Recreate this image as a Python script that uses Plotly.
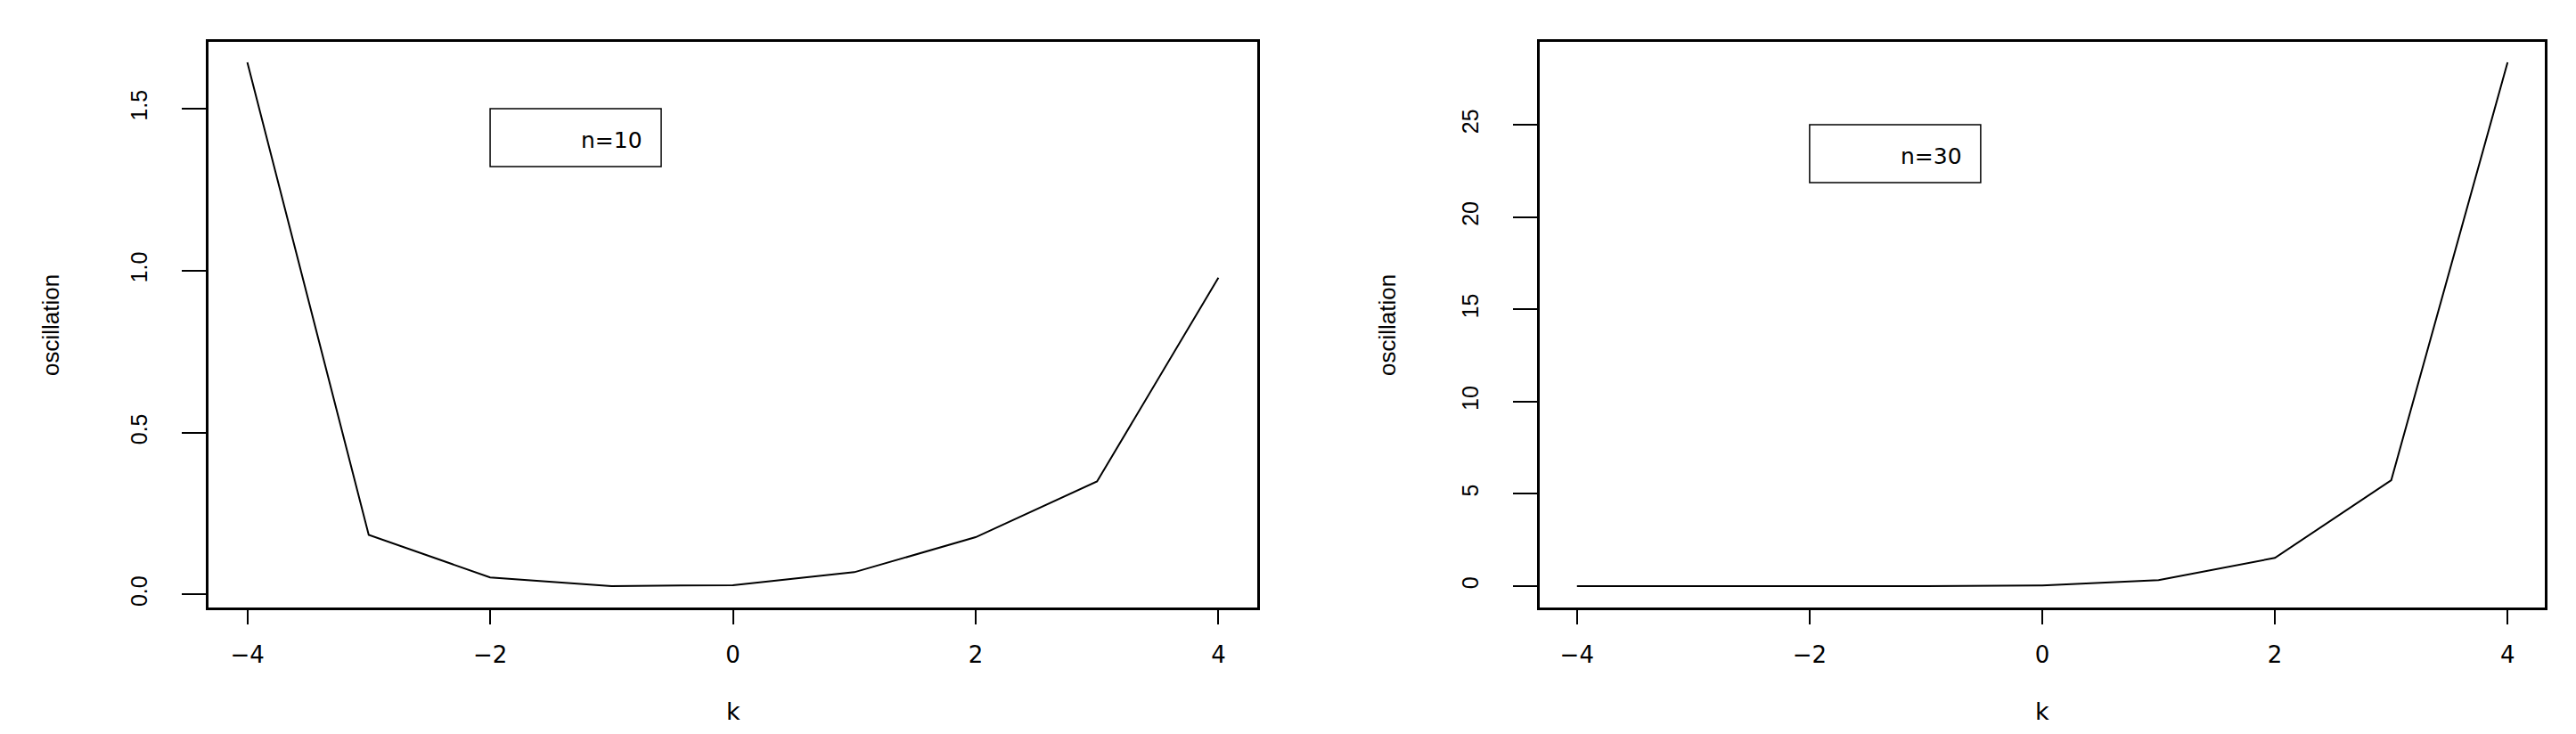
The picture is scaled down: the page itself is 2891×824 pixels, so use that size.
import plotly.graph_objects as go

# ---- data ----
k = [-4, -3, -2, -1, 0, 1, 2, 3, 4]
osc_n10 = [1.643, 0.184, 0.053, 0.026, 0.029, 0.069, 0.177, 0.349, 0.978]
osc_n30 = [0.0, 0.0, 0.001, 0.005, 0.04, 0.32, 1.53, 5.74, 28.38]
x_ticks = [-4, -2, 0, 2, 4]
y_ticks_n10 = [0.0, 0.5, 1.0, 1.5]
y_tick_text_n10 = ["0.0", "0.5", "1.0", "1.5"]
y_ticks_n30 = [0, 5, 10, 15, 20, 25]
legend_labels = ["n=10", "n=30"]
legend_anchor = [(-2, 1.5), (-2, 25)]

W, H = 2891, 824
FONT_V = "Liberation Sans, Arial, sans-serif"   # rotated text
FONT_H = "DejaVu Sans, Arial, sans-serif"       # horizontal (wider) text


def rrange(v):
    lo, hi = min(v), max(v)
    pad = 0.04 * (hi - lo)
    return [lo - pad, hi + pad]


fig = go.Figure()
fig.add_trace(go.Scatter(x=k, y=osc_n10, mode="lines", line=dict(color="black", width=2),
                         xaxis="x", yaxis="y", showlegend=False))
fig.add_trace(go.Scatter(x=k, y=osc_n30, mode="lines", line=dict(color="black", width=2),
                         xaxis="x2", yaxis="y2", showlegend=False))

ydom = [1 - 673.5 / H, 1 - 38.5 / H]
xdom1 = [226 / W, 1403 / W]
xdom2 = [1720 / W, 2848 / W]

axis_common = dict(showgrid=False, zeroline=False, showline=True, mirror=True,
                   linecolor="black", linewidth=2.5, ticks="outside",
                   tickcolor="black", tickwidth=2)
xfont = dict(family=FONT_H, size=26, color="black")
yfont = dict(family=FONT_V, size=25, color="black")

fig.update_layout(
    width=W, height=H,
    margin=dict(l=0, r=0, t=0, b=0),
    plot_bgcolor="white", paper_bgcolor="white",
    xaxis=dict(domain=xdom1, range=rrange(k), tickvals=x_ticks, ticklen=17,
               ticklabelstandoff=12, anchor="y", tickfont=xfont, **axis_common),
    yaxis=dict(domain=ydom, range=rrange(osc_n10), tickvals=y_ticks_n10,
               ticktext=y_tick_text_n10, tickangle=-90, ticklen=27,
               ticklabelstandoff=29, anchor="x", tickfont=yfont, **axis_common),
    xaxis2=dict(domain=xdom2, range=rrange(k), tickvals=x_ticks, ticklen=17,
                ticklabelstandoff=12, anchor="y2", tickfont=xfont, **axis_common),
    yaxis2=dict(domain=ydom, range=rrange(osc_n30), tickvals=y_ticks_n30,
                tickangle=-90, ticklen=27, ticklabelstandoff=29, anchor="x2",
                tickfont=yfont, **axis_common),
)

# legend boxes (R legend at data coords, top-left anchor)
for i, (lab, (lx, ly)) in enumerate(zip(legend_labels, legend_anchor)):
    xr = "x" if i == 0 else "x2"
    yr = "y" if i == 0 else "y2"
    fig.add_shape(type="rect", xref=xr, yref=yr,
                  xsizemode="pixel", ysizemode="pixel",
                  xanchor=lx, yanchor=ly, x0=0, x1=192, y0=0, y1=-65,
                  line=dict(color="black", width=1.5), fillcolor="rgba(0,0,0,0)")
    fig.add_annotation(xref=xr, yref=yr, x=lx, y=ly, text=lab, showarrow=False,
                       xanchor="right", yanchor="middle", xshift=173, yshift=-35,
                       font=dict(family=FONT_H, size=25, color="black"))

# axis titles
for xd in (xdom1, xdom2):
    fig.add_annotation(xref="paper", yref="paper", x=(xd[0] + xd[1]) / 2, y=1 - 790 / H,
                       text="k", showarrow=False, xanchor="center", yanchor="middle",
                       font=dict(family=FONT_H, size=27, color="black"))
for xp in (49, 1549):
    fig.add_annotation(xref="paper", yref="paper", x=xp / W, y=1 - 357 / H,
                       text="oscillation", textangle=-90, showarrow=False,
                       xanchor="center", yanchor="middle",
                       font=dict(family=FONT_V, size=26, color="black"))

fig.write_html("out.html")
